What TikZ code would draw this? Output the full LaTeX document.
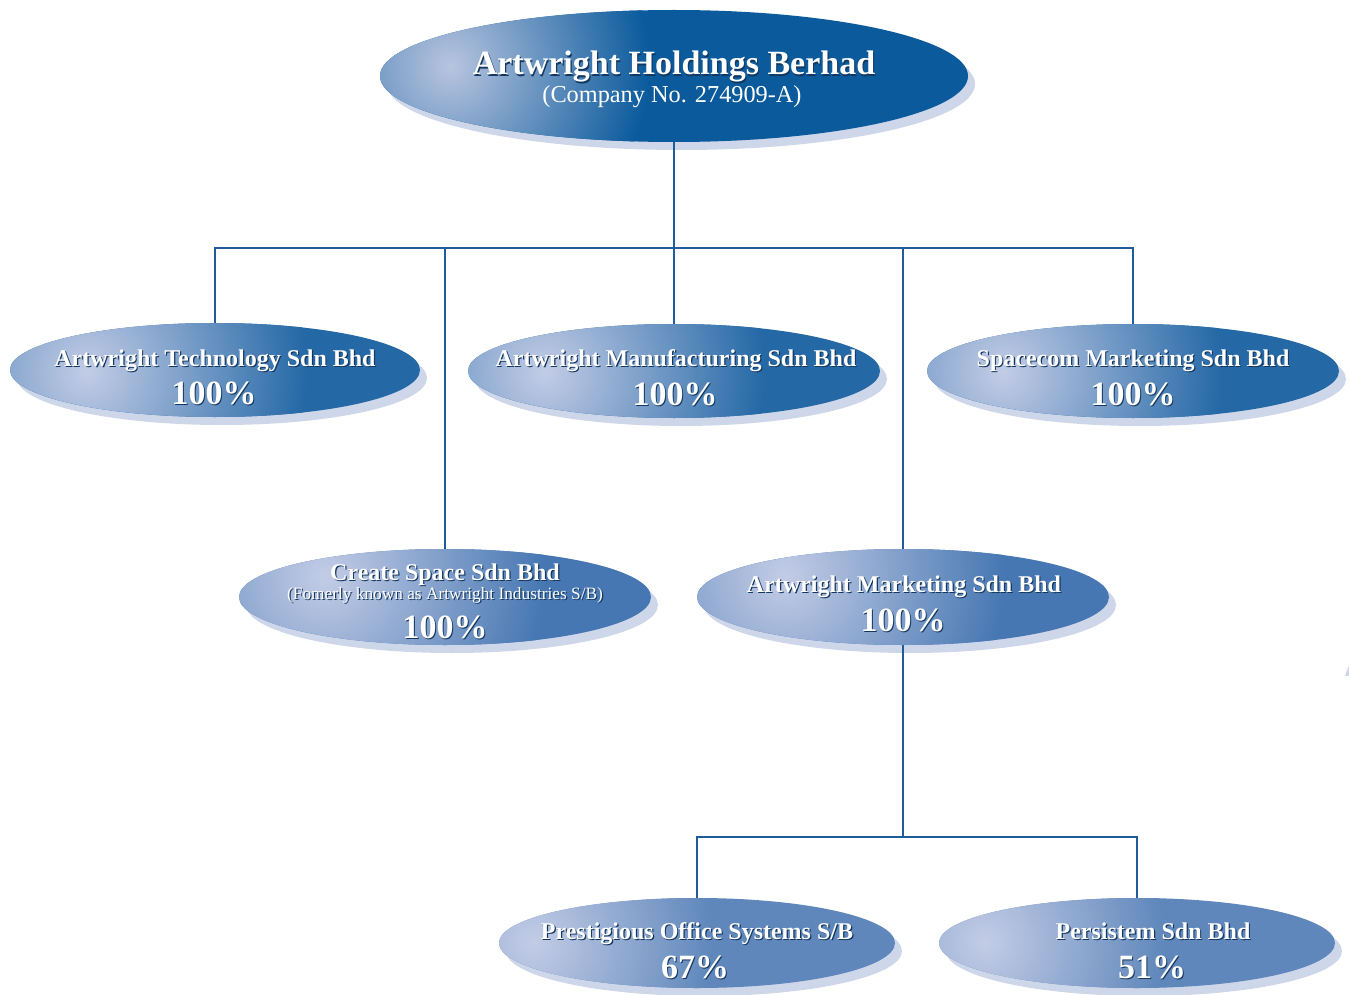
\documentclass[tikz,border=0pt]{standalone}
\usepackage{fontspec}
\setmainfont{Liberation Serif}
\usetikzlibrary{shapes.geometric,shadows}
\definecolor{shc}{HTML}{CED6EA}
\definecolor{hl}{HTML}{C3CCE6}
\definecolor{hltop}{HTML}{B8C4DF}
\definecolor{dtop}{HTML}{0A5A9C}
\definecolor{drow}{HTML}{2468A6}
\definecolor{dmid}{HTML}{4677B2}
\definecolor{dlow}{HTML}{5F87BB}
\definecolor{linec}{HTML}{1F5C9B}
\definecolor{tshadow}{HTML}{14375F}
\newcommand\shd[1]{\rlap{\kern1.2pt\raisebox{-1.2pt}{\textcolor{tshadow}{#1}}}#1}
% name, cx, cy, rx, ry, dark, hx, hy, R
\newcommand\orgbox[9]{%
  \node[orgshape, fill=#6, minimum width=2*#4 pt, minimum height=2*#5 pt] (#1) at (#2,#3) {};
  \begin{scope}
    \clip (#1.center) ellipse [x radius=#4, y radius=#5];
    \shade[inner color=hl, outer color=#6] (#7,#8) circle [radius=2*#9];
  \end{scope}}
\begin{document}
\begin{tikzpicture}[x={(1pt,0pt)}, y={(0pt,-1pt)},
  orgshape/.style={ellipse, draw=none, inner sep=0pt, outer sep=0pt,
    general shadow={fill=shc, shadow xshift=7pt, shadow yshift=-8pt}},
  conn/.style={draw=linec, line width=2pt},
  ttltxt/.style={text=white, anchor=base, inner sep=0pt, font=\bfseries\fontsize{34}{38}\selectfont},
  subtxt/.style={text=white, anchor=base, inner sep=0pt, font=\fontsize{24.3}{28}\selectfont},
  nmtxt/.style={text=white, anchor=base, inner sep=0pt, font=\bfseries\fontsize{24}{28}\selectfont},
  smtxt/.style={text=white, anchor=base, inner sep=0pt, font=\fontsize{17.3}{20}\selectfont},
  pcttxt/.style={text=white, anchor=base, inner sep=0pt, font=\bfseries\fontsize{34}{38}\selectfont}]
\useasboundingbox (0,0) rectangle (1349,995);

\coordinate (bus1) at (674,248);
\coordinate (bus2) at (903,837);

% ellipses
\colorlet{hl}{hltop}
\orgbox{top}{674}{76}{294}{66}{dtop}{450}{66}{100}
\definecolor{hl}{HTML}{C3CCE6}
\orgbox{tech}{215}{370}{205}{47}{drow}{87}{372}{110}
\orgbox{manuf}{674}{371}{206}{47}{drow}{545}{372}{110}
\orgbox{space}{1133}{371}{206}{47}{drow}{1003}{372}{110}
\orgbox{create}{445}{597}{206}{48}{dmid}{325}{576}{110}
\orgbox{mkt}{903}{597}{206}{48}{dmid}{785}{576}{110}
\orgbox{prest}{697}{943}{198}{45}{dlow}{533}{942}{90}
\orgbox{pers}{1137}{943}{198}{45}{dlow}{985}{942}{90}

\draw[conn] (top.south) -- (bus1);
\draw[conn] (tech.north) |- (bus1) -| (space.north);
\draw[conn] (manuf.north) -- (bus1);
\draw[conn] (create.north) -- (create.north |- bus1);
\draw[conn] (mkt.north) -- (mkt.north |- bus1);
\draw[conn] (mkt.south) -- (bus2);
\draw[conn] (prest.north) |- (bus2) -| (pers.north);

% texts
\node[ttltxt] (top-t) at (674,75) {\shd{Artwright Holdings Berhad}};
\node[subtxt] (top-s) at (672,103) {(Company No. 274909-A)};

\node[nmtxt] (tech-t) at (215,366) {\shd{Artwright Technology Sdn Bhd}};
\node[pcttxt] (tech-p) at (214,404) {\shd{100\%}};
\node[nmtxt] (manuf-t) at (676,366) {\shd{Artwright Manufacturing Sdn Bhd}};
\node[pcttxt] (manuf-p) at (675,405) {\shd{100\%}};
\node[nmtxt] (space-t) at (1133,366) {\shd{Spacecom Marketing Sdn Bhd}};
\node[pcttxt] (space-p) at (1133,405) {\shd{100\%}};

\node[nmtxt] (create-t) at (445,580) {\shd{Create Space Sdn Bhd}};
\node[smtxt] (create-s) at (445,599) {\shd{(Fomerly known as Artwright Industries S/B)}};
\node[pcttxt] (create-p) at (445,638) {\shd{100\%}};
\node[nmtxt] (mkt-t) at (904,592) {\shd{Artwright Marketing Sdn Bhd}};
\node[pcttxt] (mkt-p) at (903,631) {\shd{100\%}};

\node[nmtxt] (prest-t) at (697,939) {\shd{Prestigious Office Systems S/B}};
\node[pcttxt] (prest-p) at (695,978) {\shd{67\%}};
\node[nmtxt] (pers-t) at (1153,939) {\shd{Persistem Sdn Bhd}};
\node[pcttxt] (pers-p) at (1152,978) {\shd{51\%}};

\fill[shc] (1345,676) -- (1349,665) -- (1349,676) -- cycle;
\end{tikzpicture}
\end{document}
